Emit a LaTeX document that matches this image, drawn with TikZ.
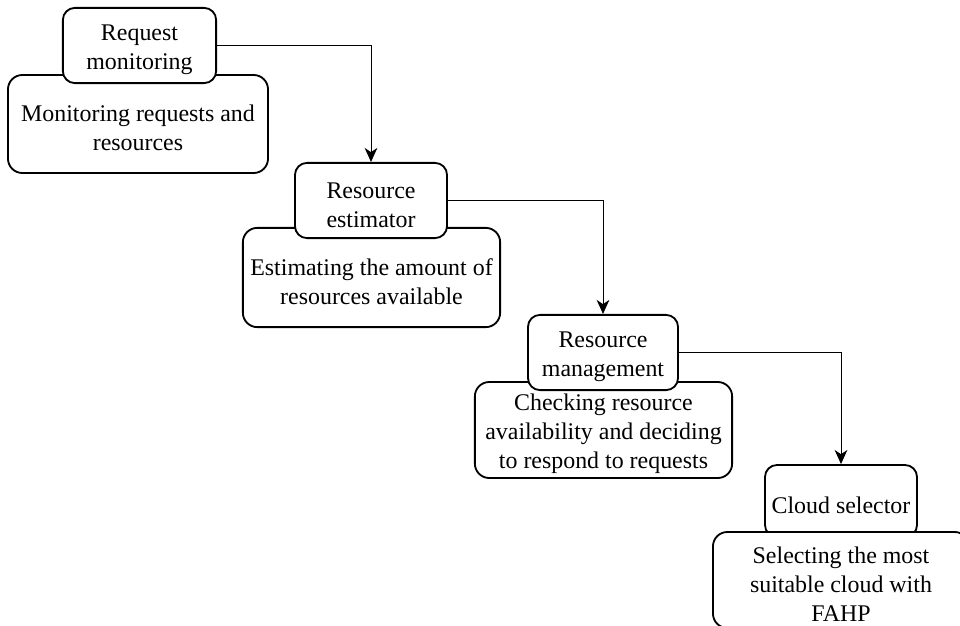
\documentclass[tikz,border=0pt]{standalone}
\usepackage{fontspec}
\setmainfont{Liberation Serif}
\usetikzlibrary{arrows.meta}
\newcommand{\hdstrut}{\rule{0pt}{17.5pt}}
\tikzset{
  stage/.style={draw, fill=white, rounded corners=0.3cm, line width=1.3pt,
    align=center, inner sep=0pt, font=\fontsize{17}{20.5}\selectfont},
  task/.style={stage, rounded corners=0.36cm},
  flow/.style={-{Stealth[length=10pt,width=9pt,inset=3pt]}, line width=0.7pt}
}
\begin{document}
\begin{tikzpicture}[x=0.025cm, y=-0.025cm]
  \useasboundingbox (0,0) rectangle (960,625);
  % descriptions first, titles on top
  \node[task, minimum width=6.5cm, minimum height=2.45cm] (monD) at (138,124)
    {\hdstrut Monitoring requests and\\resources};
  \node[stage, minimum width=3.83cm, minimum height=1.88cm] (mon) at (139.5,45.5)
    {\hdstrut Request\\monitoring};
  \node[task, minimum width=6.43cm, minimum height=2.48cm] (estD) at (371.5,277.5)
    {\hdstrut Estimating the amount of\\resources available};
  \node[stage, minimum width=3.8cm, minimum height=1.88cm] (est) at (371,200.5)
    {\hdstrut Resource\\estimator};
  \node[task, minimum width=6.43cm, minimum height=2.4cm] (manD) at (603.5,430)
    {\hdstrut Checking resource\\availability and deciding\\to respond to requests};
  \node[stage, minimum width=3.75cm, minimum height=1.88cm] (man) at (603,352.5)
    {\hdstrut Resource\\management};
  \node[stage, minimum width=3.8cm, minimum height=1.8cm] (sel) at (841,501)
    {\hdstrut Cloud selector};
  \node[task, minimum width=6.4cm, minimum height=2.4cm] (selD) at (841,580)
    {\hdstrut Selecting the most\\suitable cloud with\\FAHP};
  % connectors
  \draw[flow] (mon.east) -| (est.north);
  \draw[flow] (est.east) -| (man.north);
  \draw[flow] (man.east) -| (sel.north);
\end{tikzpicture}
\end{document}
